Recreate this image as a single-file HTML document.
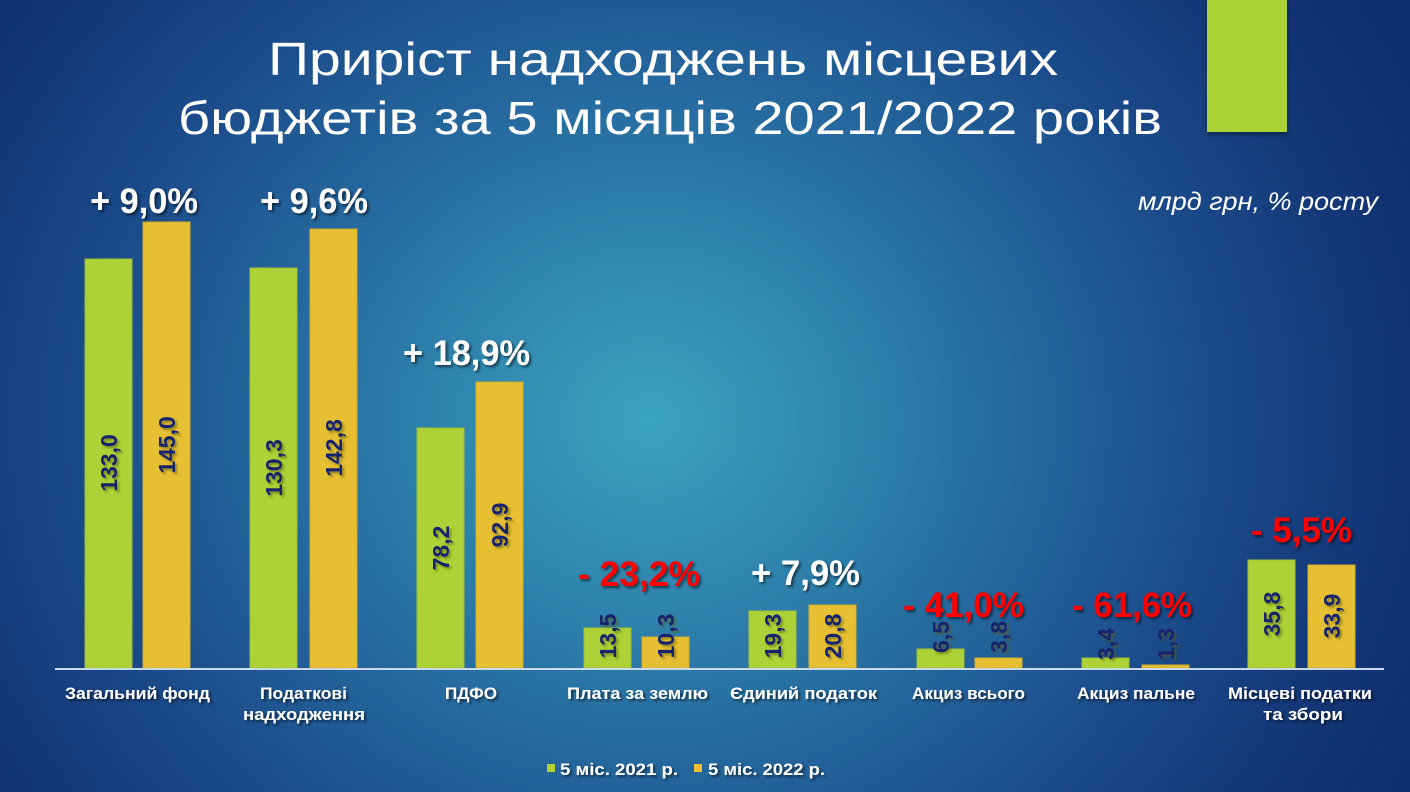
<!DOCTYPE html>
<html>
<head>
<meta charset="utf-8">
<style>
  html,body{margin:0;padding:0;background:#0f2c6a;}
  body{width:1410px;height:792px;overflow:hidden;}
  svg{display:block;}
  .t{font-family:"Liberation Sans","DejaVu Sans",sans-serif;}
</style>
</head>
<body>
<svg width="1410" height="792" viewBox="0 0 1410 792" xmlns="http://www.w3.org/2000/svg">
  <defs>
    <radialGradient id="bg" gradientUnits="userSpaceOnUse" cx="650" cy="420" r="820" gradientTransform="translate(650 420) scale(1.05 0.95) translate(-650 -420)">
      <stop offset="0" stop-color="#3ba3bd"/>
      <stop offset="0.2" stop-color="#3189b0"/>
      <stop offset="0.42" stop-color="#266a9f"/>
      <stop offset="0.65" stop-color="#1b4b8a"/>
      <stop offset="0.85" stop-color="#133676"/>
      <stop offset="1" stop-color="#0f2c6a"/>
    </radialGradient>
    <filter id="sh" x="-20%" y="-30%" width="140%" height="160%">
      <feDropShadow dx="2" dy="2" stdDeviation="1.2" flood-color="#000" flood-opacity="0.55"/>
    </filter>
    <filter id="shv" x="-30%" y="-40%" width="160%" height="180%">
      <feDropShadow dx="2" dy="2" stdDeviation="1" flood-color="#5a5a10" flood-opacity="0.6"/>
    </filter>
    <filter id="shr" x="-20%" y="-20%" width="140%" height="140%">
      <feDropShadow dx="0" dy="2" stdDeviation="2" flood-color="#000" flood-opacity="0.45"/>
    </filter>
  </defs>

  <rect x="0" y="0" width="1410" height="792" fill="url(#bg)"/>

  <!-- decorative green rectangle -->
  <rect x="1207" y="-2" width="80" height="134" fill="#acd335" filter="url(#shr)"/>

  <!-- Title -->
  <g class="t" fill="#ffffff" font-size="46">
    <text x="268" y="75" textLength="790" lengthAdjust="spacingAndGlyphs">Приріст надходжень місцевих</text>
    <text x="178" y="134" textLength="984" lengthAdjust="spacingAndGlyphs">бюджетів за 5 місяців 2021/2022 років</text>
  </g>

  <!-- units -->
  <text class="t" x="1138" y="210" font-size="25" font-style="italic" fill="#ffffff" textLength="240" lengthAdjust="spacingAndGlyphs">млрд грн, % росту</text>

  <!-- Bars: green -->
  <g fill="#add136" stroke="#9dbf38" stroke-width="1">
    <rect x="85" y="259" width="47" height="409"/>
    <rect x="250" y="268" width="47" height="400"/>
    <rect x="417" y="428" width="47" height="240"/>
    <rect x="584" y="628" width="47" height="40"/>
    <rect x="749" y="611" width="47" height="57"/>
    <rect x="917" y="649" width="47" height="19"/>
    <rect x="1082" y="658" width="47" height="10"/>
    <rect x="1248" y="560" width="47" height="108"/>
  </g>
  <!-- Bars: yellow -->
  <g fill="#e6bf33" stroke="#d2ac2c" stroke-width="1">
    <rect x="143" y="222" width="47" height="446"/>
    <rect x="310" y="229" width="47" height="439"/>
    <rect x="476" y="382" width="47" height="286"/>
    <rect x="642" y="637" width="47" height="31"/>
    <rect x="809" y="605" width="47" height="63"/>
    <rect x="975" y="658" width="47" height="10"/>
    <rect x="1142" y="665" width="47" height="3"/>
    <rect x="1308" y="565" width="47" height="103"/>
  </g>

  <!-- axis line -->
  <rect x="55" y="668" width="1329" height="2" fill="#c9d9ea"/>

  <!-- value labels (rotated) -->
  <g class="t" fill="#17226c" font-size="23" font-weight="bold" text-anchor="middle" filter="url(#shv)">
    <text transform="translate(117,463) rotate(-90)">133,0</text>
    <text transform="translate(175,445) rotate(-90)">145,0</text>
    <text transform="translate(282,468) rotate(-90)">130,3</text>
    <text transform="translate(342,448) rotate(-90)">142,8</text>
    <text transform="translate(449,548) rotate(-90)">78,2</text>
    <text transform="translate(508,525) rotate(-90)">92,9</text>
    <text transform="translate(616,636) rotate(-90)">13,5</text>
    <text transform="translate(674,636) rotate(-90)">10,3</text>
    <text transform="translate(781,636) rotate(-90)">19,3</text>
    <text transform="translate(841,636) rotate(-90)">20,8</text>
    <text transform="translate(949,637) rotate(-90)">6,5</text>
    <text transform="translate(1007,637) rotate(-90)">3,8</text>
    <text transform="translate(1114,644) rotate(-90)">3,4</text>
    <text transform="translate(1174,644) rotate(-90)">1,3</text>
    <text transform="translate(1280,614) rotate(-90)">35,8</text>
    <text transform="translate(1340,616) rotate(-90)">33,9</text>
  </g>

  <!-- percent labels -->
  <g class="t" font-size="35" font-weight="bold" filter="url(#sh)">
    <text x="90" y="213" fill="#ffffff" textLength="108" lengthAdjust="spacingAndGlyphs">+ 9,0%</text>
    <text x="260" y="213" fill="#ffffff" textLength="108" lengthAdjust="spacingAndGlyphs">+ 9,6%</text>
    <text x="403" y="365" fill="#ffffff" textLength="127" lengthAdjust="spacingAndGlyphs">+ 18,9%</text>
    <text x="578" y="586" fill="#ff0000" textLength="122" lengthAdjust="spacingAndGlyphs">- 23,2%</text>
    <text x="751" y="585" fill="#ffffff" textLength="109" lengthAdjust="spacingAndGlyphs">+ 7,9%</text>
    <text x="903" y="617" fill="#ff0000" textLength="121" lengthAdjust="spacingAndGlyphs">- 41,0%</text>
    <text x="1072" y="617" fill="#ff0000" textLength="120" lengthAdjust="spacingAndGlyphs">- 61,6%</text>
    <text x="1251" y="542" fill="#ff0000" textLength="101" lengthAdjust="spacingAndGlyphs">- 5,5%</text>
  </g>

  <!-- category labels -->
  <g class="t" font-size="17" font-weight="bold" fill="#ffffff" filter="url(#sh)">
    <text x="65" y="699" textLength="145" lengthAdjust="spacingAndGlyphs">Загальний фонд</text>
    <text x="260" y="699" textLength="87" lengthAdjust="spacingAndGlyphs">Податкові</text>
    <text x="243" y="720" textLength="122" lengthAdjust="spacingAndGlyphs">надходження</text>
    <text x="445" y="699" textLength="52" lengthAdjust="spacingAndGlyphs">ПДФО</text>
    <text x="567" y="699" textLength="141" lengthAdjust="spacingAndGlyphs">Плата за землю</text>
    <text x="730" y="699" textLength="147" lengthAdjust="spacingAndGlyphs">Єдиний податок</text>
    <text x="912" y="699" textLength="113" lengthAdjust="spacingAndGlyphs">Акциз всього</text>
    <text x="1077" y="699" textLength="118" lengthAdjust="spacingAndGlyphs">Акциз пальне</text>
    <text x="1228" y="699" textLength="144" lengthAdjust="spacingAndGlyphs">Місцеві податки</text>
    <text x="1263" y="720" textLength="80" lengthAdjust="spacingAndGlyphs">та збори</text>
  </g>

  <!-- legend -->
  <rect x="547" y="764" width="8" height="8" fill="#add136"/>
  <rect x="694" y="764" width="8" height="8" fill="#e6bf33"/>
  <g class="t" font-size="17" font-weight="bold" fill="#ffffff" filter="url(#sh)">
    <text x="560" y="775" textLength="118" lengthAdjust="spacingAndGlyphs">5 міс. 2021 р.</text>
    <text x="708" y="775" textLength="117" lengthAdjust="spacingAndGlyphs">5 міс. 2022 р.</text>
  </g>
</svg>
</body>
</html>
